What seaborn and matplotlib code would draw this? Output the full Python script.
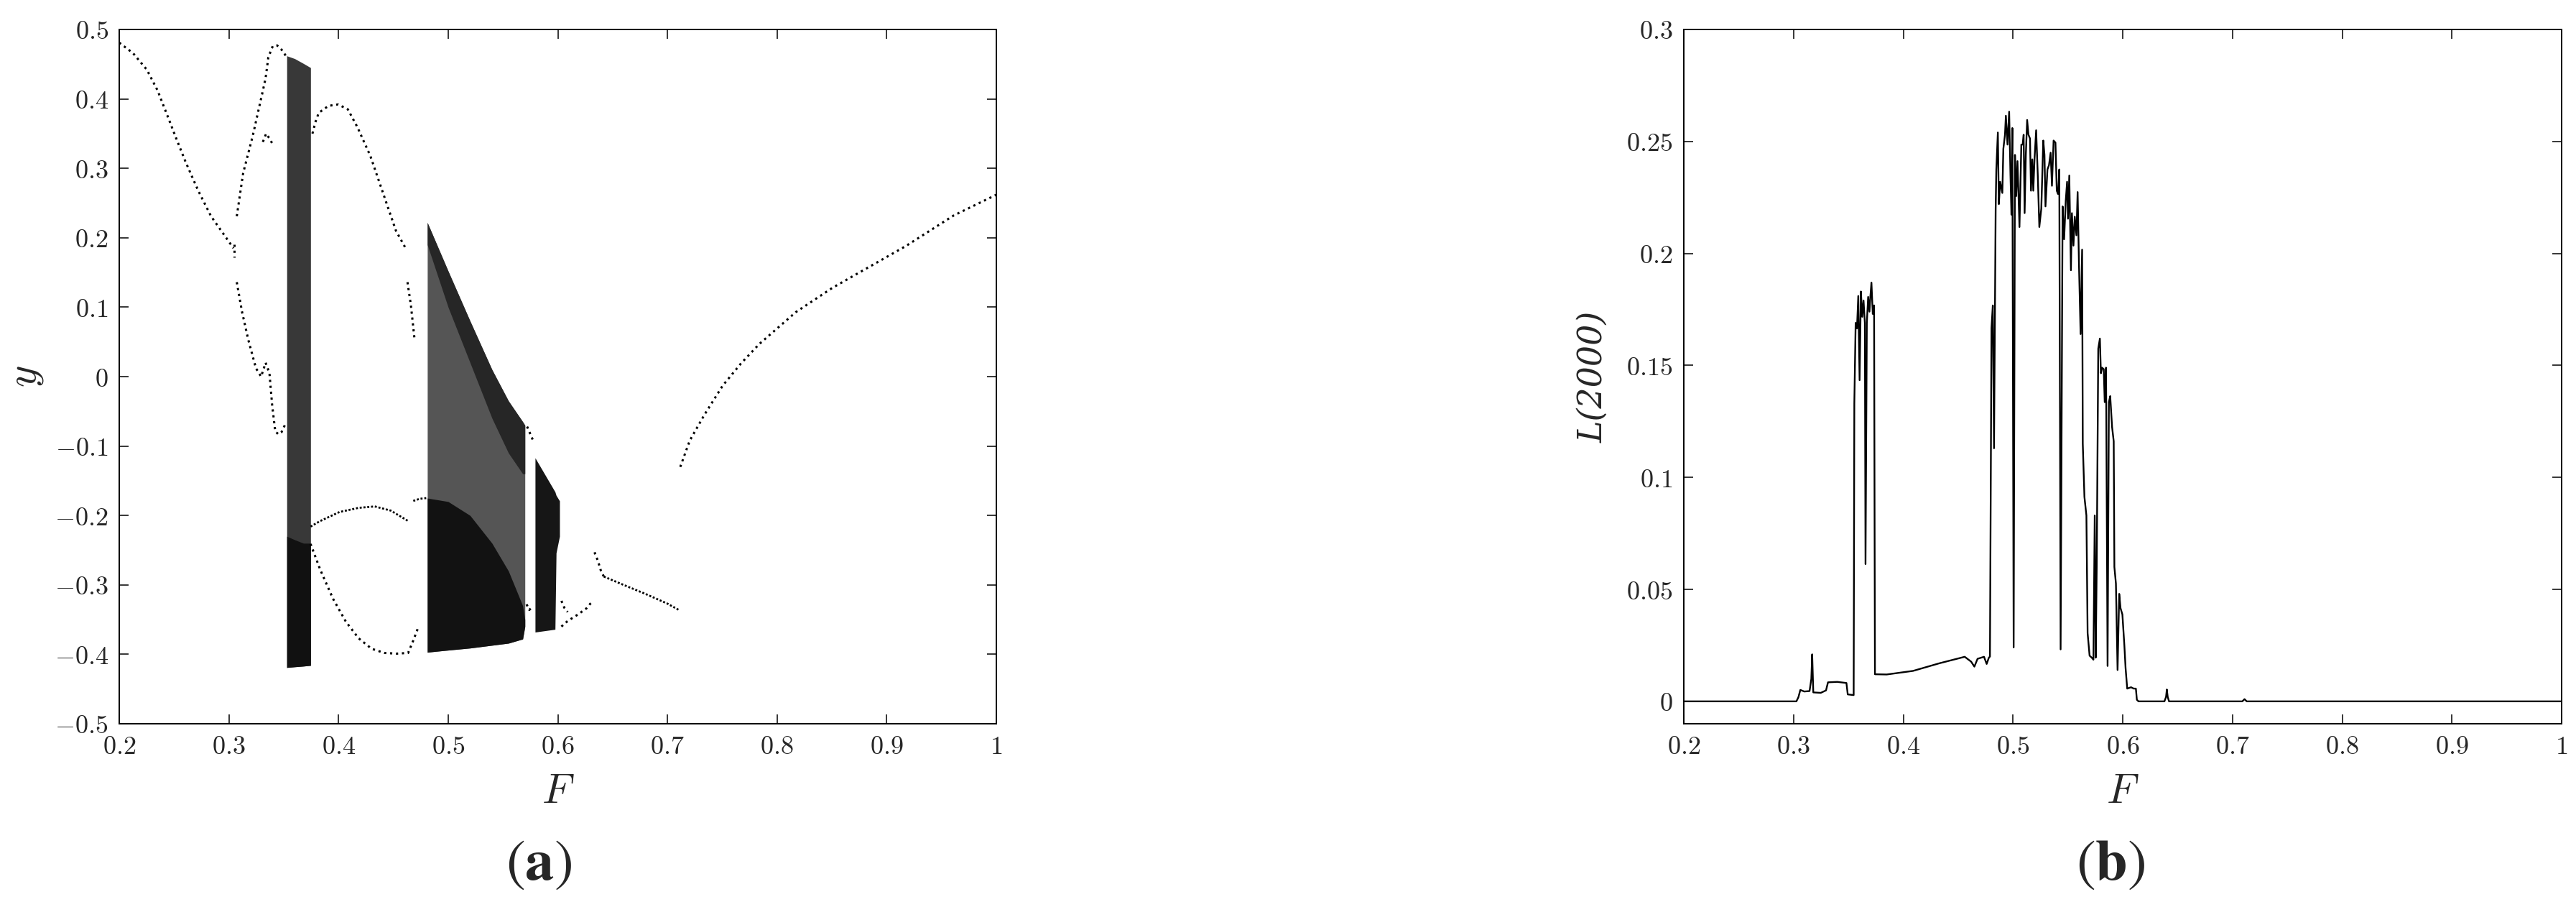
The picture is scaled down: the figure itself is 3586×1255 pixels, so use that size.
import numpy as np
import pandas as pd
import matplotlib
matplotlib.use("Agg")
import matplotlib.pyplot as plt
from matplotlib.ticker import FuncFormatter
import seaborn as sns

# ---------------- data: panel (a) bifurcation diagram ----------------
# periodic branches (F, y)
branch_a_F = [0.200, 0.2125, 0.2252, 0.2350, 0.2439, 0.2520, 0.2603, 0.2720, 0.2837, 0.2984, 0.3042]
branch_a_y = [0.481, 0.466, 0.442, 0.412, 0.376, 0.343, 0.310, 0.268, 0.231, 0.198, 0.185]

jump_F = [0.3050, 0.3050]
jump_y = [0.190, 0.172]

branch_b_up_F = [0.3072, 0.3130, 0.3218, 0.3276, 0.3306, 0.3335, 0.3360, 0.3400, 0.3440, 0.3480, 0.3520]
branch_b_up_y = [0.231, 0.293, 0.347, 0.388, 0.409, 0.430, 0.460, 0.476, 0.477, 0.471, 0.462]
branch_b_mid_F = [0.3310, 0.3340, 0.3370, 0.3395]
branch_b_mid_y = [0.338, 0.350, 0.343, 0.336]
branch_b_lo_F = [0.3072, 0.3119, 0.3177, 0.3247, 0.3294, 0.3335, 0.3370, 0.3394, 0.3423, 0.3452, 0.3480, 0.3510]
branch_b_lo_y = [0.136, 0.094, 0.053, 0.012, 0.000, 0.020, 0.005, -0.040, -0.079, -0.083, -0.080, -0.070]

branch_c_up_F = [0.3762, 0.3792, 0.3820, 0.3909, 0.3997, 0.4085, 0.4173, 0.4290, 0.4407, 0.4524, 0.4612]
branch_c_up_y = [0.350, 0.368, 0.380, 0.390, 0.392, 0.385, 0.359, 0.318, 0.264, 0.210, 0.185]
branch_c_tail_F = [0.4629, 0.4660, 0.4694]
branch_c_tail_y = [0.136, 0.103, 0.053]
branch_c_mid_F = [0.3745, 0.3833, 0.4009, 0.4184, 0.4331, 0.4477, 0.4635]
branch_c_mid_y = [-0.216, -0.208, -0.195, -0.189, -0.187, -0.193, -0.208]
branch_c_mid2_F = [0.4682, 0.4740, 0.4800]
branch_c_mid2_y = [-0.179, -0.176, -0.175]
branch_d_F = [0.3745, 0.3833, 0.3950, 0.4067, 0.4184, 0.4302, 0.4419, 0.4530, 0.4635, 0.4682, 0.4730]
branch_d_y = [-0.241, -0.278, -0.320, -0.353, -0.377, -0.392, -0.398, -0.399, -0.398, -0.380, -0.360]

bits_F = [0.5720, 0.5750, 0.5780]
bits_y = [-0.072, -0.083, -0.094]
bits2_F = [0.5715, 0.5740, 0.5765]
bits2_y = [-0.328, -0.336, -0.332]

branch_e_lo_F = [0.6033, 0.6090, 0.6180, 0.6260, 0.6318]
branch_e_lo_y = [-0.360, -0.352, -0.343, -0.334, -0.323]
branch_e_hi_F = [0.6033, 0.6060, 0.6090]
branch_e_hi_y = [-0.323, -0.333, -0.339]
branch_f_F = [0.6335, 0.6365, 0.6394, 0.6420]
branch_f_y = [-0.253, -0.265, -0.280, -0.288]
branch_g_F = [0.6420, 0.6600, 0.6800, 0.7000, 0.7103]
branch_g_y = [-0.288, -0.300, -0.313, -0.327, -0.336]
branch_h_F = [0.7117, 0.7204, 0.7337, 0.7504, 0.7671, 0.7838, 0.8172, 0.8506, 0.8840, 0.9174, 0.9610, 1.000]
branch_h_y = [-0.130, -0.092, -0.055, -0.013, 0.019, 0.047, 0.093, 0.128, 0.158, 0.188, 0.232, 0.262]

# chaotic bands: envelopes
band1_F = [0.3528, 0.3600, 0.3680, 0.3745]
band1_top = [0.462, 0.458, 0.451, 0.445]
band1_bot = [-0.419, -0.418, -0.417, -0.416]
band1_dense_top = [-0.230, -0.235, -0.240, -0.240]

band2_F = [0.4810, 0.5000, 0.5200, 0.5400, 0.5550, 0.5680, 0.5700]
band2_top = [0.222, 0.152, 0.080, 0.010, -0.035, -0.065, -0.070]
band2_bot = [-0.397, -0.394, -0.391, -0.387, -0.384, -0.378, -0.360]
band2_dense_top = [-0.175, -0.180, -0.200, -0.240, -0.280, -0.330, -0.350]
band2_edge_bot = [0.190, 0.100, 0.020, -0.060, -0.110, -0.140, -0.140]

band3_F = [0.5793, 0.5975, 0.5985, 0.6016]
band3_top = [-0.117, -0.166, -0.171, -0.179]
band3_bot = [-0.368, -0.364, -0.254, -0.230]

# ---------------- data: panel (b) L(2000) ----------------
L_F = [0.2000, 0.3026, 0.3044, 0.3062, 0.3098, 0.3146, 0.3162, 0.3170, 0.3180, 0.3248,
       0.3296, 0.3314, 0.3398, 0.3482, 0.3494, 0.3548, 0.3554, 0.3566, 0.3578, 0.3590,
       0.3602, 0.3614, 0.3626, 0.3638, 0.3650, 0.3656, 0.3668, 0.3680, 0.3692, 0.3700,
       0.3710, 0.3722, 0.3734, 0.3742, 0.3849, 0.4089, 0.4329, 0.4560, 0.4619, 0.4648,
       0.4677, 0.4736, 0.4760, 0.4780, 0.4790, 0.4804, 0.4816, 0.4827, 0.4842, 0.4848,
       0.4862, 0.4871, 0.4883, 0.4903, 0.4912, 0.4927, 0.4935, 0.4950, 0.4965, 0.4977,
       0.4986, 0.4994, 0.5006, 0.5018, 0.5029, 0.5041, 0.5059, 0.5076, 0.5088, 0.5097,
       0.5106, 0.5117, 0.5129, 0.5141, 0.5155, 0.5164, 0.5176, 0.5185, 0.5196, 0.5211,
       0.5226, 0.5240, 0.5258, 0.5276, 0.5287, 0.5296, 0.5314, 0.5328, 0.5343, 0.5355,
       0.5370, 0.5387, 0.5399, 0.5411, 0.5422, 0.5434, 0.5452, 0.5466, 0.5481, 0.5493,
       0.5501, 0.5513, 0.5528, 0.5537, 0.5551, 0.5563, 0.5578, 0.5589, 0.5601, 0.5616,
       0.5630, 0.5636, 0.5651, 0.5669, 0.5680, 0.5698, 0.5718, 0.5733, 0.5745, 0.5754,
       0.5763, 0.5777, 0.5792, 0.5801, 0.5812, 0.5827, 0.5836, 0.5848, 0.5862, 0.5874,
       0.5886, 0.5903, 0.5918, 0.5924, 0.5938, 0.5953, 0.5968, 0.5980, 0.5997, 0.6015,
       0.6026, 0.6041, 0.6076, 0.6100, 0.6120, 0.6129, 0.6144, 0.6380, 0.6395, 0.6402,
       0.6410, 0.6422, 0.7090, 0.7110, 0.7130, 1.0000]
L_val = [0.0, 0.0, 0.0018, 0.0051, 0.0044, 0.0046, 0.0100, 0.0210, 0.0040, 0.0038,
         0.0049, 0.0085, 0.0087, 0.0082, 0.0031, 0.0028, 0.1330, 0.1690, 0.1665, 0.1810,
         0.1434, 0.1830, 0.1717, 0.1790, 0.1690, 0.0613, 0.1690, 0.1806, 0.1740, 0.1806,
         0.1870, 0.1730, 0.1768, 0.0121, 0.0120, 0.0136, 0.0170, 0.0199, 0.0177, 0.0155,
         0.0190, 0.0199, 0.0167, 0.0195, 0.0200, 0.1667, 0.1768, 0.1130, 0.2200, 0.2375,
         0.2540, 0.2220, 0.2320, 0.2270, 0.2467, 0.2530, 0.2615, 0.2486, 0.2633, 0.2348,
         0.2173, 0.2560, 0.0241, 0.2440, 0.2256, 0.2412, 0.2118, 0.2486, 0.2486, 0.2530,
         0.2180, 0.2440, 0.2596, 0.2530, 0.2513, 0.2280, 0.2420, 0.2280, 0.2420, 0.2550,
         0.2348, 0.2118, 0.2200, 0.2504, 0.2440, 0.2210, 0.2375, 0.2394, 0.2450, 0.2302,
         0.2504, 0.2495, 0.2280, 0.2265, 0.2375, 0.0232, 0.2210, 0.2063, 0.2237, 0.2320,
         0.2155, 0.2348, 0.1925, 0.2180, 0.2035, 0.2164, 0.2081, 0.2274, 0.1960, 0.1640,
         0.2017, 0.1150, 0.0913, 0.0830, 0.0305, 0.0204, 0.0195, 0.0186, 0.0830, 0.0195,
         0.0600, 0.1575, 0.1620, 0.1465, 0.1490, 0.1483, 0.1336, 0.1490, 0.0158, 0.1336,
         0.1363, 0.1225, 0.1161, 0.0600, 0.0526, 0.0140, 0.0480, 0.0416, 0.0388, 0.0250,
         0.0149, 0.0057, 0.0063, 0.0057, 0.0057, 0.0007, 0.0, 0.0, 0.0020, 0.0053,
         0.0020, 0.0, 0.0, 0.0010, 0.0, 0.0]

x_ticks = [0.2, 0.3, 0.4, 0.5, 0.6, 0.7, 0.8, 0.9, 1.0]
ya_ticks = [-0.5, -0.4, -0.3, -0.2, -0.1, 0.0, 0.1, 0.2, 0.3, 0.4, 0.5]
yb_ticks = [0.0, 0.05, 0.1, 0.15, 0.2, 0.25, 0.3]

# ---------------- style ----------------
sns.set_theme(style="ticks")
plt.rcParams["font.family"] = ["DejaVu Serif"]
plt.rcParams["mathtext.fontset"] = "cm"

W, H = 3586, 1255
fig = plt.figure(figsize=(W / 100, H / 100), dpi=100)
ax1 = fig.add_axes([166 / W, 1 - 1007 / H, 1221 / W, 966 / H])
ax2 = fig.add_axes([2344 / W, 1 - 1007 / H, 1222 / W, 966 / H])

dot = dict(color="black", linewidth=2.2, linestyle=(0, (1.0, 1.7)), sort=False, estimator=None)
dense_dot = dict(color="black", linewidth=2.0, linestyle=(0, (1.0, 0.9)), sort=False, estimator=None)

# chaotic bands
ax1.fill_between(band1_F, band1_bot, band1_top, color="#383838", linewidth=0)
ax1.fill_between(band1_F, band1_bot, band1_dense_top, color="#111111", linewidth=0)
ax1.fill_between(band2_F, band2_bot, band2_top, color="#555555", linewidth=0)
ax1.fill_between(band2_F, band2_edge_bot, band2_top, color="#262626", linewidth=0)
ax1.fill_between(band2_F, band2_bot, band2_dense_top, color="#121212", linewidth=0)
ax1.fill_between(band3_F, band3_bot, band3_top, color="#161616", linewidth=0)

sparse_branches = [
    (branch_a_F, branch_a_y), (jump_F, jump_y),
    (branch_b_up_F, branch_b_up_y), (branch_b_mid_F, branch_b_mid_y), (branch_b_lo_F, branch_b_lo_y),
    (branch_c_up_F, branch_c_up_y), (branch_c_tail_F, branch_c_tail_y),
    (branch_d_F, branch_d_y),
    (bits_F, bits_y), (bits2_F, bits2_y),
    (branch_e_lo_F, branch_e_lo_y), (branch_e_hi_F, branch_e_hi_y),
    (branch_f_F, branch_f_y), (branch_h_F, branch_h_y),
]
dense_branches = [
    (branch_c_mid_F, branch_c_mid_y), (branch_c_mid2_F, branch_c_mid2_y),
    (branch_g_F, branch_g_y),
]
for bx, by in sparse_branches:
    sns.lineplot(x=bx, y=by, ax=ax1, **dot)
for bx, by in dense_branches:
    sns.lineplot(x=bx, y=by, ax=ax1, **dense_dot)

sns.lineplot(x=L_F, y=L_val, ax=ax2, color="black", linewidth=1.7, sort=False, estimator=None)

fmt = FuncFormatter(lambda v, p: "$%g$" % round(v, 4))
for ax in (ax1, ax2):
    ax.set_xlim(0.2, 1.0)
    ax.set_xticks(x_ticks)
    ax.xaxis.set_major_formatter(fmt)
    ax.yaxis.set_major_formatter(fmt)
    ax.tick_params(which="major", direction="in", length=9.5, width=1.3,
                   top=True, right=True, labelsize=26, pad=11)
    for s in ax.spines.values():
        s.set_linewidth(1.4)
        s.set_color("black")
    ax.set_xlabel("$F$", fontsize=42, labelpad=12)
    ax.set_facecolor("white")

ax1.set_ylim(-0.5, 0.5)
ax1.set_yticks(ya_ticks)
ax1.set_ylabel("$y$", fontsize=42, labelpad=9)
ax2.set_ylim(-0.01, 0.3)
ax2.set_yticks(yb_ticks)
ax2.set_ylabel("L(2000)", fontsize=33, family="DejaVu Serif", style="italic", labelpad=17)

fig.text(750 / W, 1 - 1202 / H, r"$(\mathbf{a})$", fontsize=58, math_fontfamily="stix",
         ha="center", va="center")
fig.text(2938 / W, 1 - 1202 / H, r"$(\mathbf{b})$", fontsize=58, math_fontfamily="stix",
         ha="center", va="center")

fig.savefig("out.png", dpi=100, facecolor="white")
